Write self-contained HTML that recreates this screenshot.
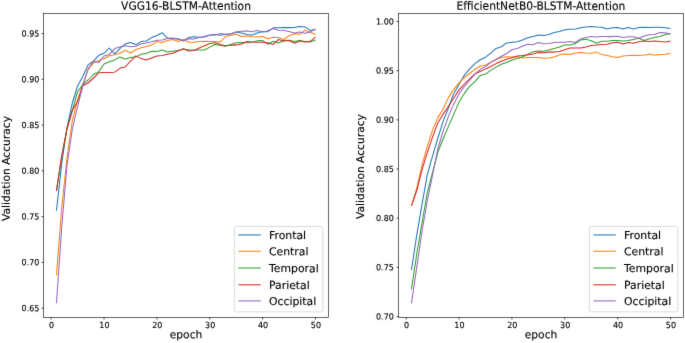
<!DOCTYPE html>
<html lang="en"><head><meta charset="utf-8"><title>Validation Accuracy per epoch</title>
<style>
html,body{margin:0;padding:0;background:#fff;overflow:hidden;}
svg{display:block;}
text{font-family:"DejaVu Sans","Liberation Sans",sans-serif;fill:#000;stroke:#000;stroke-width:0.12px;}
</style></head>
<body>
<svg width="685" height="343" viewBox="0 0 685 343">
<defs><filter id="soft" x="0" y="0" width="685" height="343" filterUnits="userSpaceOnUse" color-interpolation-filters="sRGB"><feConvolveMatrix order="3" kernelMatrix="0.0064 0.0672 0.0064 0.0672 0.7056 0.0672 0.0064 0.0672 0.0064" divisor="1" edgeMode="duplicate" preserveAlpha="false"/></filter></defs>
<g filter="url(#soft)">
<rect width="685" height="343" fill="#fff"/>
<g id="vgg16">
<g class="curves" fill="none" stroke-width="1.05" stroke-linejoin="round">
<polyline points="56.45,210.80 61.74,163.50 67.03,127.50 72.32,103.00 77.61,86.00 82.89,76.30 88.18,64.60 93.47,61.10 98.76,55.30 104.04,53.30 109.33,48.00 114.62,53.90 119.91,48.60 125.19,43.90 130.48,42.50 135.77,44.60 141.06,41.60 146.34,41.00 151.63,37.60 156.92,35.50 162.21,32.80 167.49,38.10 172.78,38.80 178.07,38.80 183.36,40.80 188.64,37.60 193.93,36.70 199.22,37.30 204.51,36.90 209.80,35.20 215.08,34.60 220.37,35.20 225.66,34.60 230.95,34.00 236.23,32.00 241.52,33.10 246.81,34.60 252.10,34.90 257.38,33.10 262.67,31.40 267.96,31.70 273.25,27.80 278.53,27.80 283.82,27.60 289.11,27.60 294.40,27.50 299.68,26.40 304.97,26.90 310.26,30.40 315.55,29.20" stroke="#1f77b4"/>
<polyline points="56.45,275.30 61.74,207.50 67.03,157.50 72.32,120.80 77.61,100.00 82.89,84.10 88.18,69.30 93.47,62.80 98.76,60.50 104.04,58.80 109.33,55.80 114.62,54.70 119.91,53.20 125.19,50.30 130.48,53.00 135.77,49.80 141.06,47.80 146.34,46.60 151.63,45.10 156.92,41.40 162.21,42.50 167.49,40.50 172.78,39.60 178.07,41.40 183.36,39.40 188.64,42.30 193.93,42.30 199.22,41.40 204.51,41.30 209.80,41.60 215.08,41.40 220.37,42.00 225.66,36.40 230.95,35.20 236.23,34.20 241.52,36.40 246.81,36.10 252.10,36.70 257.38,37.00 262.67,36.40 267.96,38.70 273.25,37.20 278.53,37.50 283.82,39.50 289.11,35.70 294.40,33.70 299.68,34.30 304.97,30.20 310.26,32.30 315.55,34.60" stroke="#ff7f0e"/>
<polyline points="56.45,190.80 61.74,155.50 67.03,128.50 72.32,110.50 77.61,91.70 82.89,84.60 88.18,80.00 93.47,74.50 98.76,71.60 104.04,64.00 109.33,61.70 114.62,59.90 119.91,57.00 125.19,59.00 130.48,57.50 135.77,57.10 141.06,54.20 146.34,53.40 151.63,51.30 156.92,51.60 162.21,50.10 167.49,52.10 172.78,51.30 178.07,50.50 183.36,48.90 188.64,49.90 193.93,50.00 199.22,50.00 204.51,50.00 209.80,47.10 215.08,44.50 220.37,45.50 225.66,46.30 230.95,44.50 236.23,42.80 241.52,42.50 246.81,42.80 252.10,42.40 257.38,40.70 262.67,40.60 267.96,44.20 273.25,41.30 278.53,43.00 283.82,40.50 289.11,40.30 294.40,41.60 299.68,40.50 304.97,41.60 310.26,42.10 315.55,40.10" stroke="#2ca02c"/>
<polyline points="56.45,191.10 61.74,156.00 67.03,129.00 72.32,110.20 77.61,101.30 82.89,85.50 88.18,83.00 93.47,78.00 98.76,72.80 104.04,72.50 109.33,72.40 114.62,72.20 119.91,68.30 125.19,67.00 130.48,61.20 135.77,55.90 141.06,58.60 146.34,60.00 151.63,57.90 156.92,55.90 162.21,55.40 167.49,54.20 172.78,53.30 178.07,50.90 183.36,48.70 188.64,51.00 193.93,50.40 199.22,48.00 204.51,45.70 209.80,43.40 215.08,42.80 220.37,44.50 225.66,45.70 230.95,45.10 236.23,45.10 241.52,43.90 246.81,41.60 252.10,42.00 257.38,42.20 262.67,42.20 267.96,42.70 273.25,44.40 278.53,39.50 283.82,40.90 289.11,40.50 294.40,43.30 299.68,41.00 304.97,41.90 310.26,41.30 315.55,37.20" stroke="#d62728"/>
<polyline points="56.45,303.30 61.74,227.00 67.03,165.00 72.32,129.00 77.61,106.50 82.89,85.50 88.18,68.70 93.47,61.10 98.76,62.60 104.04,56.00 109.33,54.40 114.62,48.60 119.91,46.90 125.19,45.80 130.48,46.70 135.77,46.30 141.06,43.70 146.34,42.90 151.63,41.70 156.92,40.20 162.21,39.90 167.49,38.40 172.78,38.10 178.07,39.20 183.36,41.00 188.64,38.80 193.93,39.10 199.22,37.50 204.51,36.60 209.80,34.90 215.08,34.90 220.37,33.40 225.66,34.20 230.95,33.70 236.23,31.90 241.52,31.30 246.81,31.10 252.10,31.70 257.38,30.40 262.67,32.00 267.96,30.80 273.25,28.40 278.53,30.20 283.82,30.50 289.11,31.60 294.40,32.90 299.68,31.90 304.97,33.30 310.26,31.90 315.55,29.20" stroke="#9467bd"/>
</g>
<g class="axes" stroke="#000" stroke-width="0.6" fill="none">
<rect x="43.5" y="13.5" width="285" height="304"/>
<line x1="51.17" y1="317.5" x2="51.17" y2="319.4" stroke-width="0.75"/>
<line x1="104.04" y1="317.5" x2="104.04" y2="319.4" stroke-width="0.75"/>
<line x1="156.92" y1="317.5" x2="156.92" y2="319.4" stroke-width="0.75"/>
<line x1="209.80" y1="317.5" x2="209.80" y2="319.4" stroke-width="0.75"/>
<line x1="262.67" y1="317.5" x2="262.67" y2="319.4" stroke-width="0.75"/>
<line x1="315.55" y1="317.5" x2="315.55" y2="319.4" stroke-width="0.75"/>
<line x1="41.6" y1="33.53" x2="43.5" y2="33.53" stroke-width="0.75"/>
<line x1="41.6" y1="79.31" x2="43.5" y2="79.31" stroke-width="0.75"/>
<line x1="41.6" y1="125.09" x2="43.5" y2="125.09" stroke-width="0.75"/>
<line x1="41.6" y1="170.87" x2="43.5" y2="170.87" stroke-width="0.75"/>
<line x1="41.6" y1="216.65" x2="43.5" y2="216.65" stroke-width="0.75"/>
<line x1="41.6" y1="262.43" x2="43.5" y2="262.43" stroke-width="0.75"/>
<line x1="41.6" y1="308.21" x2="43.5" y2="308.21" stroke-width="0.75"/>
</g>
<g class="ticklabels" font-size="8.0">
<text transform="matrix(1 0.002 0 1.05 51.52 328.00)" text-anchor="middle">0</text>
<text transform="matrix(1 0.002 0 1.05 104.39 328.00)" text-anchor="middle">10</text>
<text transform="matrix(1 0.002 0 1.05 157.27 328.00)" text-anchor="middle">20</text>
<text transform="matrix(1 0.002 0 1.05 210.15 328.00)" text-anchor="middle">30</text>
<text transform="matrix(1 0.002 0 1.05 263.02 328.00)" text-anchor="middle">40</text>
<text transform="matrix(1 0.002 0 1.05 315.90 328.00)" text-anchor="middle">50</text>
<text transform="matrix(1 0.002 0 1.05 39.40 36.48)" text-anchor="end">0.95</text>
<text transform="matrix(1 0.002 0 1.05 39.40 82.26)" text-anchor="end">0.90</text>
<text transform="matrix(1 0.002 0 1.05 39.40 128.04)" text-anchor="end">0.85</text>
<text transform="matrix(1 0.002 0 1.05 39.40 173.82)" text-anchor="end">0.80</text>
<text transform="matrix(1 0.002 0 1.05 39.40 219.60)" text-anchor="end">0.75</text>
<text transform="matrix(1 0.002 0 1.05 39.40 265.38)" text-anchor="end">0.70</text>
<text transform="matrix(1 0.002 0 1.05 39.40 311.16)" text-anchor="end">0.65</text>
</g>
<g class="labels" font-size="10.7" text-anchor="middle">
<text transform="matrix(1 0.002 0 1.07 186.00 9.80)">VGG16-BLSTM-Attention</text>
<text transform="matrix(1 0.002 0 1.02 186.00 338.20)">epoch</text>
<text transform="translate(9.83,168.5) rotate(-89.97)">Validation Accuracy</text>
</g>
<g class="legend" font-size="10.85">
<rect x="234.40" y="226.50" width="88.50" height="85.40" rx="1.8" fill="#fff" fill-opacity="0.8" stroke="#ccc" stroke-width="0.7"/>
<line x1="238.40" y1="234.95" x2="260.80" y2="234.95" stroke="#1f77b4" stroke-width="1.05"/>
<text transform="matrix(1 0.002 0 1.0 269.00 239.00)">Frontal</text>
<line x1="238.40" y1="251.25" x2="260.80" y2="251.25" stroke="#ff7f0e" stroke-width="1.05"/>
<text transform="matrix(1 0.002 0 1.0 269.00 255.30)">Central</text>
<line x1="238.40" y1="268.00" x2="260.80" y2="268.00" stroke="#2ca02c" stroke-width="1.05"/>
<text transform="matrix(1 0.002 0 1.0 269.00 272.05)">Temporal</text>
<line x1="238.40" y1="284.80" x2="260.80" y2="284.80" stroke="#d62728" stroke-width="1.05"/>
<text transform="matrix(1 0.002 0 1.0 269.00 288.85)">Parietal</text>
<line x1="238.40" y1="300.90" x2="260.80" y2="300.90" stroke="#9467bd" stroke-width="1.05"/>
<text transform="matrix(1 0.002 0 1.0 269.00 304.95)">Occipital</text>
</g>
</g>
<g id="efficientnet">
<g class="curves" fill="none" stroke-width="1.05" stroke-linejoin="round">
<polyline points="411.45,270.00 416.74,235.00 422.03,204.30 427.32,174.50 432.60,155.80 437.89,138.00 443.18,121.10 448.47,108.00 453.76,93.40 459.04,84.60 464.33,75.30 469.62,68.90 474.91,63.60 480.19,59.80 485.48,57.20 490.77,53.10 496.06,48.40 501.34,46.70 506.63,42.90 511.92,42.30 517.21,41.70 522.49,40.10 527.78,37.80 533.07,36.40 538.36,34.90 543.64,35.40 548.93,34.60 554.22,32.40 559.51,31.40 564.79,29.80 570.08,29.30 575.37,29.00 580.66,27.70 585.95,27.00 591.23,26.40 596.52,27.00 601.81,27.30 607.10,29.00 612.38,27.80 617.67,27.50 622.96,28.90 628.25,27.40 633.53,29.00 638.82,27.50 644.11,27.30 649.40,27.40 654.68,27.30 659.97,27.30 665.26,27.70 670.55,28.60" stroke="#1f77b4"/>
<polyline points="411.45,205.80 416.74,188.50 422.03,165.20 427.32,146.20 432.60,129.90 437.89,117.60 443.18,109.00 448.47,97.40 453.76,89.30 459.04,82.80 464.33,77.60 469.62,73.50 474.91,69.20 480.19,66.30 485.48,65.10 490.77,62.20 496.06,59.50 501.34,57.40 506.63,56.80 511.92,57.00 517.21,56.80 522.49,58.00 527.78,57.60 533.07,57.40 538.36,57.40 543.64,58.30 548.93,58.00 554.22,57.10 559.51,54.70 564.79,54.10 570.08,54.50 575.37,53.10 580.66,52.60 585.95,53.00 591.23,53.20 596.52,52.10 601.81,54.60 607.10,55.60 612.38,56.80 617.67,57.40 622.96,55.90 628.25,55.40 633.53,55.30 638.82,55.40 644.11,55.00 649.40,54.20 654.68,55.30 659.97,54.50 665.26,54.20 670.55,53.30" stroke="#ff7f0e"/>
<polyline points="411.45,289.30 416.74,254.00 422.03,223.00 427.32,192.50 432.60,172.50 437.89,152.00 443.18,138.70 448.47,126.40 453.76,114.10 459.04,102.10 464.33,93.40 469.62,86.40 474.91,81.70 480.19,75.60 485.48,74.10 490.77,70.40 496.06,67.10 501.34,64.20 506.63,62.50 511.92,60.00 517.21,58.60 522.49,56.80 527.78,54.40 533.07,51.80 538.36,50.90 543.64,51.30 548.93,50.10 554.22,48.60 559.51,47.10 564.79,45.00 570.08,45.00 575.37,43.60 580.66,40.10 585.95,39.20 591.23,40.70 596.52,43.30 601.81,41.30 607.10,41.30 612.38,40.60 617.67,40.50 622.96,40.90 628.25,40.60 633.53,39.40 638.82,38.30 644.11,40.60 649.40,38.80 654.68,37.50 659.97,36.60 665.26,34.50 670.55,33.80" stroke="#2ca02c"/>
<polyline points="411.45,205.80 416.74,190.50 422.03,169.90 427.32,152.30 432.60,136.90 437.89,122.80 443.18,114.10 448.47,106.20 453.76,98.00 459.04,89.90 464.33,84.00 469.62,78.80 474.91,73.80 480.19,71.50 485.48,68.90 490.77,66.50 496.06,63.60 501.34,61.30 506.63,59.30 511.92,57.70 517.21,56.00 522.49,55.60 527.78,54.70 533.07,53.90 538.36,52.50 543.64,52.70 548.93,52.10 554.22,52.10 559.51,51.40 564.79,49.80 570.08,48.00 575.37,48.00 580.66,48.00 585.95,46.90 591.23,45.60 596.52,45.10 601.81,44.40 607.10,44.30 612.38,42.70 617.67,42.30 622.96,44.00 628.25,42.40 633.53,43.20 638.82,41.80 644.11,41.10 649.40,41.50 654.68,41.10 659.97,41.50 665.26,41.90 670.55,40.90" stroke="#d62728"/>
<polyline points="411.45,303.30 416.74,267.40 422.03,231.00 427.32,200.70 432.60,175.00 437.89,148.50 443.18,131.00 448.47,116.40 453.76,103.90 459.04,93.90 464.33,86.40 469.62,80.50 474.91,74.10 480.19,69.40 485.48,66.50 490.77,62.40 496.06,59.50 501.34,56.30 506.63,53.50 511.92,49.70 517.21,48.60 522.49,46.30 527.78,44.30 533.07,44.80 538.36,42.40 543.64,43.70 548.93,43.40 554.22,42.60 559.51,42.30 564.79,42.30 570.08,41.60 575.37,42.50 580.66,38.90 585.95,37.40 591.23,36.40 596.52,37.00 601.81,36.40 607.10,36.60 612.38,36.60 617.67,36.20 622.96,37.40 628.25,36.70 633.53,36.70 638.82,38.20 644.11,36.00 649.40,34.70 654.68,34.50 659.97,32.40 665.26,32.80 670.55,33.90" stroke="#9467bd"/>
</g>
<g class="axes" stroke="#000" stroke-width="0.6" fill="none">
<rect x="398.5" y="13.5" width="285" height="304"/>
<line x1="406.17" y1="317.5" x2="406.17" y2="319.4" stroke-width="0.75"/>
<line x1="459.04" y1="317.5" x2="459.04" y2="319.4" stroke-width="0.75"/>
<line x1="511.92" y1="317.5" x2="511.92" y2="319.4" stroke-width="0.75"/>
<line x1="564.79" y1="317.5" x2="564.79" y2="319.4" stroke-width="0.75"/>
<line x1="617.67" y1="317.5" x2="617.67" y2="319.4" stroke-width="0.75"/>
<line x1="670.55" y1="317.5" x2="670.55" y2="319.4" stroke-width="0.75"/>
<line x1="396.6" y1="21.53" x2="398.5" y2="21.53" stroke-width="0.75"/>
<line x1="396.6" y1="70.69" x2="398.5" y2="70.69" stroke-width="0.75"/>
<line x1="396.6" y1="119.85" x2="398.5" y2="119.85" stroke-width="0.75"/>
<line x1="396.6" y1="169.01" x2="398.5" y2="169.01" stroke-width="0.75"/>
<line x1="396.6" y1="218.17" x2="398.5" y2="218.17" stroke-width="0.75"/>
<line x1="396.6" y1="267.33" x2="398.5" y2="267.33" stroke-width="0.75"/>
<line x1="396.6" y1="316.49" x2="398.5" y2="316.49" stroke-width="0.75"/>
</g>
<g class="ticklabels" font-size="8.0">
<text transform="matrix(1 0.002 0 1.05 406.52 328.00)" text-anchor="middle">0</text>
<text transform="matrix(1 0.002 0 1.05 459.39 328.00)" text-anchor="middle">10</text>
<text transform="matrix(1 0.002 0 1.05 512.27 328.00)" text-anchor="middle">20</text>
<text transform="matrix(1 0.002 0 1.05 565.14 328.00)" text-anchor="middle">30</text>
<text transform="matrix(1 0.002 0 1.05 618.02 328.00)" text-anchor="middle">40</text>
<text transform="matrix(1 0.002 0 1.05 670.90 328.00)" text-anchor="middle">50</text>
<text transform="matrix(1 0.002 0 1.05 393.80 24.48)" text-anchor="end">1.00</text>
<text transform="matrix(1 0.002 0 1.05 393.80 73.64)" text-anchor="end">0.95</text>
<text transform="matrix(1 0.002 0 1.05 393.80 122.80)" text-anchor="end">0.90</text>
<text transform="matrix(1 0.002 0 1.05 393.80 171.96)" text-anchor="end">0.85</text>
<text transform="matrix(1 0.002 0 1.05 393.80 221.12)" text-anchor="end">0.80</text>
<text transform="matrix(1 0.002 0 1.05 393.80 270.28)" text-anchor="end">0.75</text>
<text transform="matrix(1 0.002 0 1.05 393.80 319.44)" text-anchor="end">0.70</text>
</g>
<g class="labels" font-size="10.7" text-anchor="middle">
<text transform="matrix(1 0.002 0 1.07 541.00 9.80)">EfficientNetB0-BLSTM-Attention</text>
<text transform="matrix(1 0.002 0 1.02 541.00 338.20)">epoch</text>
<text transform="translate(363.95,166.6) rotate(-89.97)">Validation Accuracy</text>
</g>
<g class="legend" font-size="10.85">
<rect x="589.40" y="226.50" width="88.50" height="85.40" rx="1.8" fill="#fff" fill-opacity="0.8" stroke="#ccc" stroke-width="0.7"/>
<line x1="593.40" y1="234.95" x2="615.80" y2="234.95" stroke="#1f77b4" stroke-width="1.05"/>
<text transform="matrix(1 0.002 0 1.0 624.00 239.00)">Frontal</text>
<line x1="593.40" y1="251.25" x2="615.80" y2="251.25" stroke="#ff7f0e" stroke-width="1.05"/>
<text transform="matrix(1 0.002 0 1.0 624.00 255.30)">Central</text>
<line x1="593.40" y1="268.00" x2="615.80" y2="268.00" stroke="#2ca02c" stroke-width="1.05"/>
<text transform="matrix(1 0.002 0 1.0 624.00 272.05)">Temporal</text>
<line x1="593.40" y1="284.80" x2="615.80" y2="284.80" stroke="#d62728" stroke-width="1.05"/>
<text transform="matrix(1 0.002 0 1.0 624.00 288.85)">Parietal</text>
<line x1="593.40" y1="300.90" x2="615.80" y2="300.90" stroke="#9467bd" stroke-width="1.05"/>
<text transform="matrix(1 0.002 0 1.0 624.00 304.95)">Occipital</text>
</g>
</g>
</g>
</svg>
</body></html>
